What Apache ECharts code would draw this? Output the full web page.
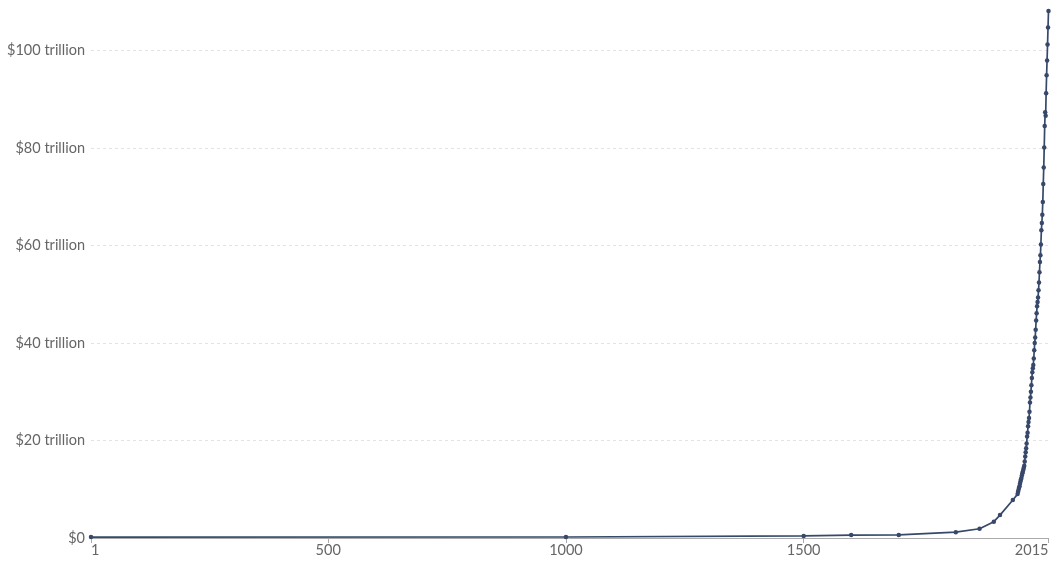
<!DOCTYPE html>
<html>
<head>
<meta charset="utf-8">
<script src="https://cdn.jsdelivr.net/npm/echarts@6/dist/echarts.min.js"></script>
<style>
html,body{margin:0;padding:0;background:#fff;}
#chart{width:1058px;height:566px;}
</style>
</head>
<body>
<div id="chart"></div>
<script>
// Years and world GDP (trillions of international-$)
const years = [1, 1000, 1500, 1600, 1700, 1820, 1870, 1900, 1913, 1940,
  1950, 1951, 1952, 1953, 1954, 1955, 1956, 1957, 1958, 1959,
  1960, 1961, 1962, 1963, 1964, 1965, 1966, 1967, 1968, 1969,
  1970, 1971, 1972, 1973, 1974, 1975, 1976, 1977, 1978, 1979,
  1980, 1981, 1982, 1983, 1984, 1985, 1986, 1987, 1988, 1989,
  1990, 1991, 1992, 1993, 1994, 1995, 1996, 1997, 1998, 1999,
  2000, 2001, 2002, 2003, 2004, 2005, 2006, 2007, 2008, 2009,
  2010, 2011, 2012, 2013, 2014, 2015];
const gdpTrillions = [0.18, 0.21, 0.43, 0.60, 0.64, 1.2, 1.9, 3.35, 4.7, 7.8,
  9.0, 9.5, 9.9, 10.3, 10.6, 11.1, 11.6, 12.0, 12.3, 12.8,
  13.3, 13.6, 14.0, 14.4, 14.8, 15.7, 16.7, 17.6, 18.4, 19.4,
  20.8, 21.6, 22.9, 23.8, 24.6, 25.9, 27.8, 28.8, 30.0, 31.3,
  32.8, 34.0, 34.8, 35.5, 36.8, 38.5, 40.0, 41.1, 42.7, 44.6,
  46.1, 47.5, 48.4, 49.3, 50.8, 52.4, 54.5, 56.6, 58.0, 60.2,
  63.1, 64.6, 66.3, 68.9, 72.6, 76.0, 80.1, 84.5, 87.3, 86.6,
  91.2, 94.9, 97.9, 101.2, 104.7, 108.07];
const xTicks = [1, 500, 1000, 1500, 2015];
const yTicks = [0, 20, 40, 60, 80, 100];

const data = years.map((y, i) => [y, gdpTrillions[i]]);
const chart = echarts.init(document.getElementById('chart'));
const font = 'Lato, "Noto Sans", sans-serif';
chart.setOption({
  animation: false,
  grid: {left: 91, right: 9.5, top: 11, bottom: 28},
  xAxis: {
    type: 'value', min: 1, max: 2015,
    axisLine: {show: true, lineStyle: {color: '#aaa'}},
    axisTick: {show: true, customValues: xTicks, length: 5, lineStyle: {color: '#aaa'}},
    axisLabel: {customValues: xTicks, color: '#666', fontSize: 14.5, fontFamily: font, margin: 5,
      formatter: v => String(v),
      alignMinLabel: 'left', alignMaxLabel: 'right', showMinLabel: true, showMaxLabel: true},
    splitLine: {show: false}
  },
  yAxis: {
    type: 'value', min: 0, max: 'dataMax', interval: 20,
    axisLine: {show: false}, axisTick: {show: false},
    axisLabel: {customValues: yTicks, color: '#666', fontSize: 14.5, fontFamily: font, margin: 6,
      formatter: v => v === 0 ? '$0' : '$' + v + ' trillion'},
    splitLine: {show: true, showMaxLine: false, lineStyle: {color: '#e3e3e3', type: [3, 3]}}
  },
  series: [{
    type: 'line', data: data,
    symbol: 'circle', symbolSize: 4.5, showSymbol: true,
    lineStyle: {color: '#37486a', width: 1.7},
    itemStyle: {color: '#37486a'}
  }]
});
</script>
</body>
</html>
